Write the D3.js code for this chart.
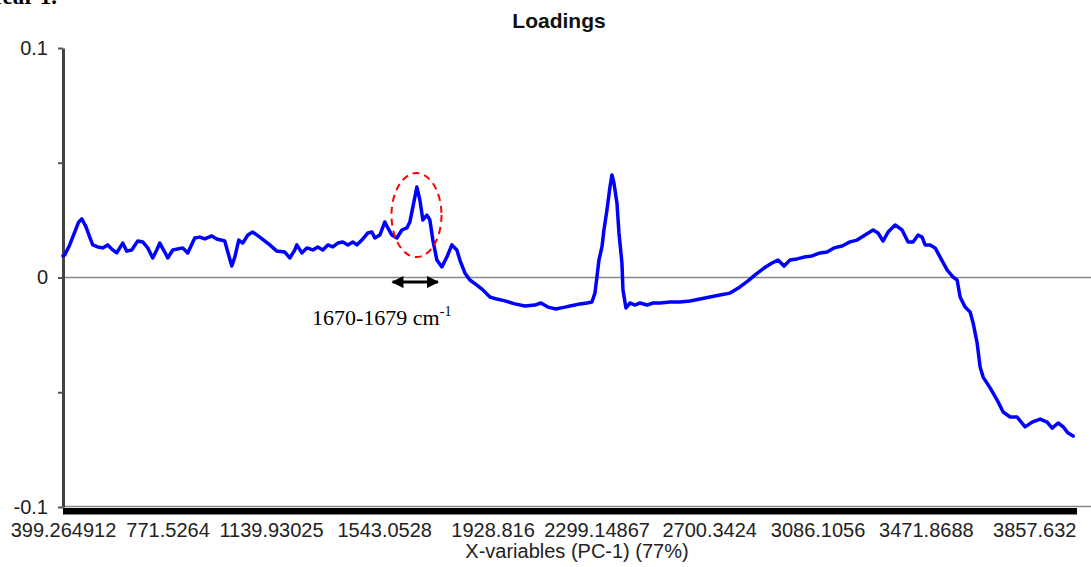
<!DOCTYPE html>
<html><head>
<meta charset="utf-8">
<title>Loadings</title>
<script src="https://d3js.org/d3.v7.min.js"></script>
<style>
  body { margin: 0; background: #fff; }
  svg { display: block; }
  text { font-family: "Liberation Sans", Arial, sans-serif; fill: #222; }
  .axis text { font-size: 20px; fill: #222; }
  .serif { font-family: "Liberation Serif", "Times New Roman", serif; fill: #000; }
</style>
</head><body>
<svg id="chart" width="1091" height="567"></svg>
<script>
// x-variables (wavenumber, cm-1) and PC-1 loadings
const wavenumbers = [
  399.3, 405.3, 423.1, 440.9, 455.2, 465.9, 480.1, 494.4, 505.1, 522.9,
  540.7, 558.5, 572.8, 590.6, 611.9, 626.2, 644.0, 665.4, 683.2, 701.0,
  718.8, 733.1, 743.8, 761.6, 772.3, 790.1, 825.7, 843.5, 868.4, 886.3,
  904.1, 929.0, 946.8, 975.3, 986.0, 1000.3, 1011.0, 1025.2, 1039.4, 1057.3,
  1075.1, 1100.0, 1135.6, 1160.6, 1189.1, 1206.9, 1224.7, 1231.8, 1249.6, 1267.4,
  1288.8, 1306.6, 1324.4, 1342.3, 1360.1, 1377.9, 1395.7, 1413.5, 1431.3, 1445.6,
  1463.4, 1484.8, 1499.0, 1509.7, 1527.5, 1545.3, 1556.0, 1570.3, 1588.1, 1605.9,
  1623.7, 1634.4, 1645.1, 1659.3, 1670.0, 1680.7, 1695.0, 1705.6, 1716.3, 1730.6,
  1748.4, 1766.2, 1784.0, 1801.8, 1812.5, 1830.3, 1848.1, 1873.1, 1894.4, 1919.4,
  1944.3, 1972.8, 2008.4, 2044.1, 2079.7, 2101.1, 2126.0, 2154.5, 2186.6, 2204.4,
  2222.2, 2240.0, 2265.0, 2282.8, 2293.4, 2300.6, 2307.7, 2318.4, 2325.5, 2336.2,
  2346.9, 2354.0, 2361.1, 2371.8, 2379.0, 2389.6, 2393.2, 2403.9, 2418.1, 2436.0,
  2453.8, 2478.7, 2500.1, 2525.0, 2560.6, 2596.3, 2631.9, 2667.5, 2703.1, 2738.8,
  2774.4, 2810.0, 2838.5, 2867.0, 2895.5, 2924.0, 2945.4, 2966.8, 2988.1, 3013.1,
  3038.0, 3066.5, 3095.0, 3120.0, 3144.9, 3173.4, 3201.9, 3226.8, 3255.3, 3283.8,
  3301.6, 3319.4, 3337.3, 3362.2, 3387.1, 3408.5, 3426.3, 3444.1, 3458.4, 3469.1,
  3486.9, 3504.7, 3522.5, 3547.4, 3568.8, 3583.1, 3593.8, 3611.6, 3629.4, 3640.1,
  3654.3, 3665.0, 3675.7, 3700.6, 3725.6, 3746.9, 3771.9, 3796.8, 3825.3, 3850.3,
  3878.8, 3903.7, 3921.5, 3942.9, 3960.7, 3978.5, 3996.3
];
const loadings = [
  0.0094, 0.0098, 0.0142, 0.0198, 0.0242, 0.0255, 0.0224, 0.0176, 0.0142, 0.0133,
  0.0129, 0.0142, 0.0124, 0.0107, 0.0150, 0.0115, 0.0120, 0.0159, 0.0155, 0.0129,
  0.0085, 0.0120, 0.0150, 0.0111, 0.0085, 0.0120, 0.0129, 0.0107, 0.0172, 0.0176,
  0.0168, 0.0181, 0.0168, 0.0159, 0.0111, 0.0050, 0.0089, 0.0163, 0.0150, 0.0185,
  0.0198, 0.0176, 0.0142, 0.0115, 0.0111, 0.0085, 0.0120, 0.0142, 0.0107, 0.0129,
  0.0120, 0.0133, 0.0120, 0.0142, 0.0133, 0.0150, 0.0155, 0.0142, 0.0155, 0.0142,
  0.0163, 0.0194, 0.0198, 0.0172, 0.0185, 0.0242, 0.0216, 0.0185, 0.0172, 0.0207,
  0.0216, 0.0242, 0.0307, 0.0394, 0.0338, 0.0251, 0.0272, 0.0251, 0.0163, 0.0076,
  0.0046, 0.0089, 0.0142, 0.0120, 0.0076, 0.0020, -0.0011, -0.0033, -0.0054, -0.0085,
  -0.0094, -0.0102, -0.0115, -0.0124, -0.0120, -0.0111, -0.0129, -0.0137, -0.0129, -0.0124,
  -0.0120, -0.0115, -0.0111, -0.0107, -0.0068, 0.0002, 0.0076, 0.0133, 0.0207, 0.0294,
  0.0394, 0.0447, 0.0412, 0.0325, 0.0194, 0.0063, -0.0054, -0.0133, -0.0111, -0.0120,
  -0.0111, -0.0120, -0.0111, -0.0111, -0.0107, -0.0107, -0.0102, -0.0094, -0.0085, -0.0076,
  -0.0068, -0.0041, -0.0015, 0.0015, 0.0041, 0.0063, 0.0076, 0.0050, 0.0076, 0.0081,
  0.0089, 0.0094, 0.0107, 0.0111, 0.0129, 0.0137, 0.0155, 0.0163, 0.0185, 0.0207,
  0.0194, 0.0159, 0.0198, 0.0229, 0.0207, 0.0155, 0.0155, 0.0185, 0.0176, 0.0142,
  0.0142, 0.0129, 0.0089, 0.0033, 0.0002, -0.0011, -0.0085, -0.0129, -0.0150, -0.0198,
  -0.0285, -0.0390, -0.0434, -0.0481, -0.0534, -0.0586, -0.0608, -0.0608, -0.0651, -0.0630,
  -0.0617, -0.0630, -0.0656, -0.0634, -0.0651, -0.0678, -0.0691
];

const xTickValues = [399.264912, 771.5264, 1139.93025, 1543.0528, 1928.816,
                     2299.14867, 2700.3424, 3086.1056, 3471.8688, 3857.632];
const xTickLabels = ["399.264912", "771.5264", "1139.93025", "1543.0528", "1928.816",
                     "2299.14867", "2700.3424", "3086.1056", "3471.8688", "3857.632"];
const yTickValues = [-0.1, -0.05, 0, 0.05, 0.1];
const yTickLabels = ["-0.1", "", "0", "", "0.1"];
const xStart = 399.264912, xEnd = 4010;

// annotation: marked amide band
const bandSpan = [1573, 1734];
const bandCentre = [1658, 0.0272];
const bandText = "1670-1679 cm";

const svg = d3.select("#chart");
const width = +svg.attr("width");

const x = d3.scaleLinear().domain([xStart, xEnd]).range([63, 1077]);
const y = d3.scaleLinear().domain([-0.1, 0.1]).range([507, 48]);

// cut-off caption from the page above
svg.append("text").attr("class", "serif")
   .attr("x", 57).attr("y", 4).attr("text-anchor", "end")
   .style("font-size", "23px").style("font-weight", "bold")
   .text("Year 1.");

// title
svg.append("text").attr("x", 559).attr("y", 28).attr("text-anchor", "middle")
   .style("font-size", "21px").style("font-weight", "bold").style("fill", "#111")
   .text("Loadings");

// zero line and bottom base line, running to the right edge
svg.append("line").attr("x1", x(xStart)).attr("x2", width)
   .attr("y1", y(0)).attr("y2", y(0))
   .attr("stroke", "#888").attr("stroke-width", 1.5);
svg.append("line").attr("x1", x(xStart)).attr("x2", width)
   .attr("y1", y(-0.1) - 0.5).attr("y2", y(-0.1) - 0.5)
   .attr("stroke", "#888").attr("stroke-width", 1.5);

// dense x-variable ticks show as a solid black bar
svg.append("rect").attr("x", x(xStart)).attr("width", x(xEnd) - x(xStart))
   .attr("y", y(-0.1) + 1).attr("height", 6.5).attr("fill", "#000");

// x axis labels
const xAxis = svg.append("g").attr("class", "axis")
   .attr("transform", `translate(0,${y(-0.1)})`)
   .call(d3.axisBottom(x).tickValues(xTickValues)
           .tickFormat((d, i) => xTickLabels[i]).tickSize(0).tickPadding(16));
xAxis.select(".domain").remove();

svg.append("text").attr("class", "axis")
   .attr("x", 577).attr("y", 558).attr("text-anchor", "middle")
   .style("font-size", "20px")
   .text("X-variables (PC-1) (77%)");

// y axis
const yAxis = svg.append("g").attr("class", "axis")
   .attr("transform", `translate(${x(xStart)},0)`)
   .call(d3.axisLeft(y).tickValues(yTickValues)
           .tickFormat((d, i) => yTickLabels[i]).tickSize(5).tickSizeOuter(0).tickPadding(10));
yAxis.select(".domain").attr("stroke", "#444").attr("stroke-width", 3);
yAxis.selectAll(".tick line").attr("stroke", "#555").attr("stroke-width", 2);

// loadings line
const line = d3.line()
   .x((d, i) => x(wavenumbers[i]))
   .y(d => y(d));
svg.append("path").datum(loadings)
   .attr("d", line)
   .attr("fill", "none")
   .attr("stroke", "#0000ff")
   .attr("stroke-width", 3.5)
   .attr("stroke-linejoin", "round")
   .attr("stroke-linecap", "round");

// red dashed ellipse round the band
svg.append("ellipse")
   .attr("cx", x(bandCentre[0])).attr("cy", y(bandCentre[1]))
   .attr("rx", 25).attr("ry", 42)
   .attr("fill", "none").attr("stroke", "#f00")
   .attr("stroke-width", 2).attr("stroke-dasharray", "7,5");

// double headed arrow
const defs = svg.append("defs");
defs.append("marker").attr("id", "head")
   .attr("viewBox", "0 0 10 10").attr("refX", 9).attr("refY", 5)
   .attr("markerUnits", "userSpaceOnUse")
   .attr("markerWidth", 13).attr("markerHeight", 12)
   .attr("orient", "auto-start-reverse")
   .append("path").attr("d", "M0,0 L10,5 L0,10 Z").attr("fill", "#000");
svg.append("line")
   .attr("x1", x(bandSpan[0])).attr("x2", x(bandSpan[1]))
   .attr("y1", y(-0.002)).attr("y2", y(-0.002))
   .attr("stroke", "#000").attr("stroke-width", 3)
   .attr("marker-start", "url(#head)").attr("marker-end", "url(#head)");

const lbl = svg.append("text").attr("class", "serif")
   .attr("x", x(1286)).attr("y", y(-0.0207))
   .style("font-size", "22px");
lbl.append("tspan").text(bandText);
lbl.append("tspan").attr("dy", -9).style("font-size", "14px").text("-1");
</script>
</body></html>
